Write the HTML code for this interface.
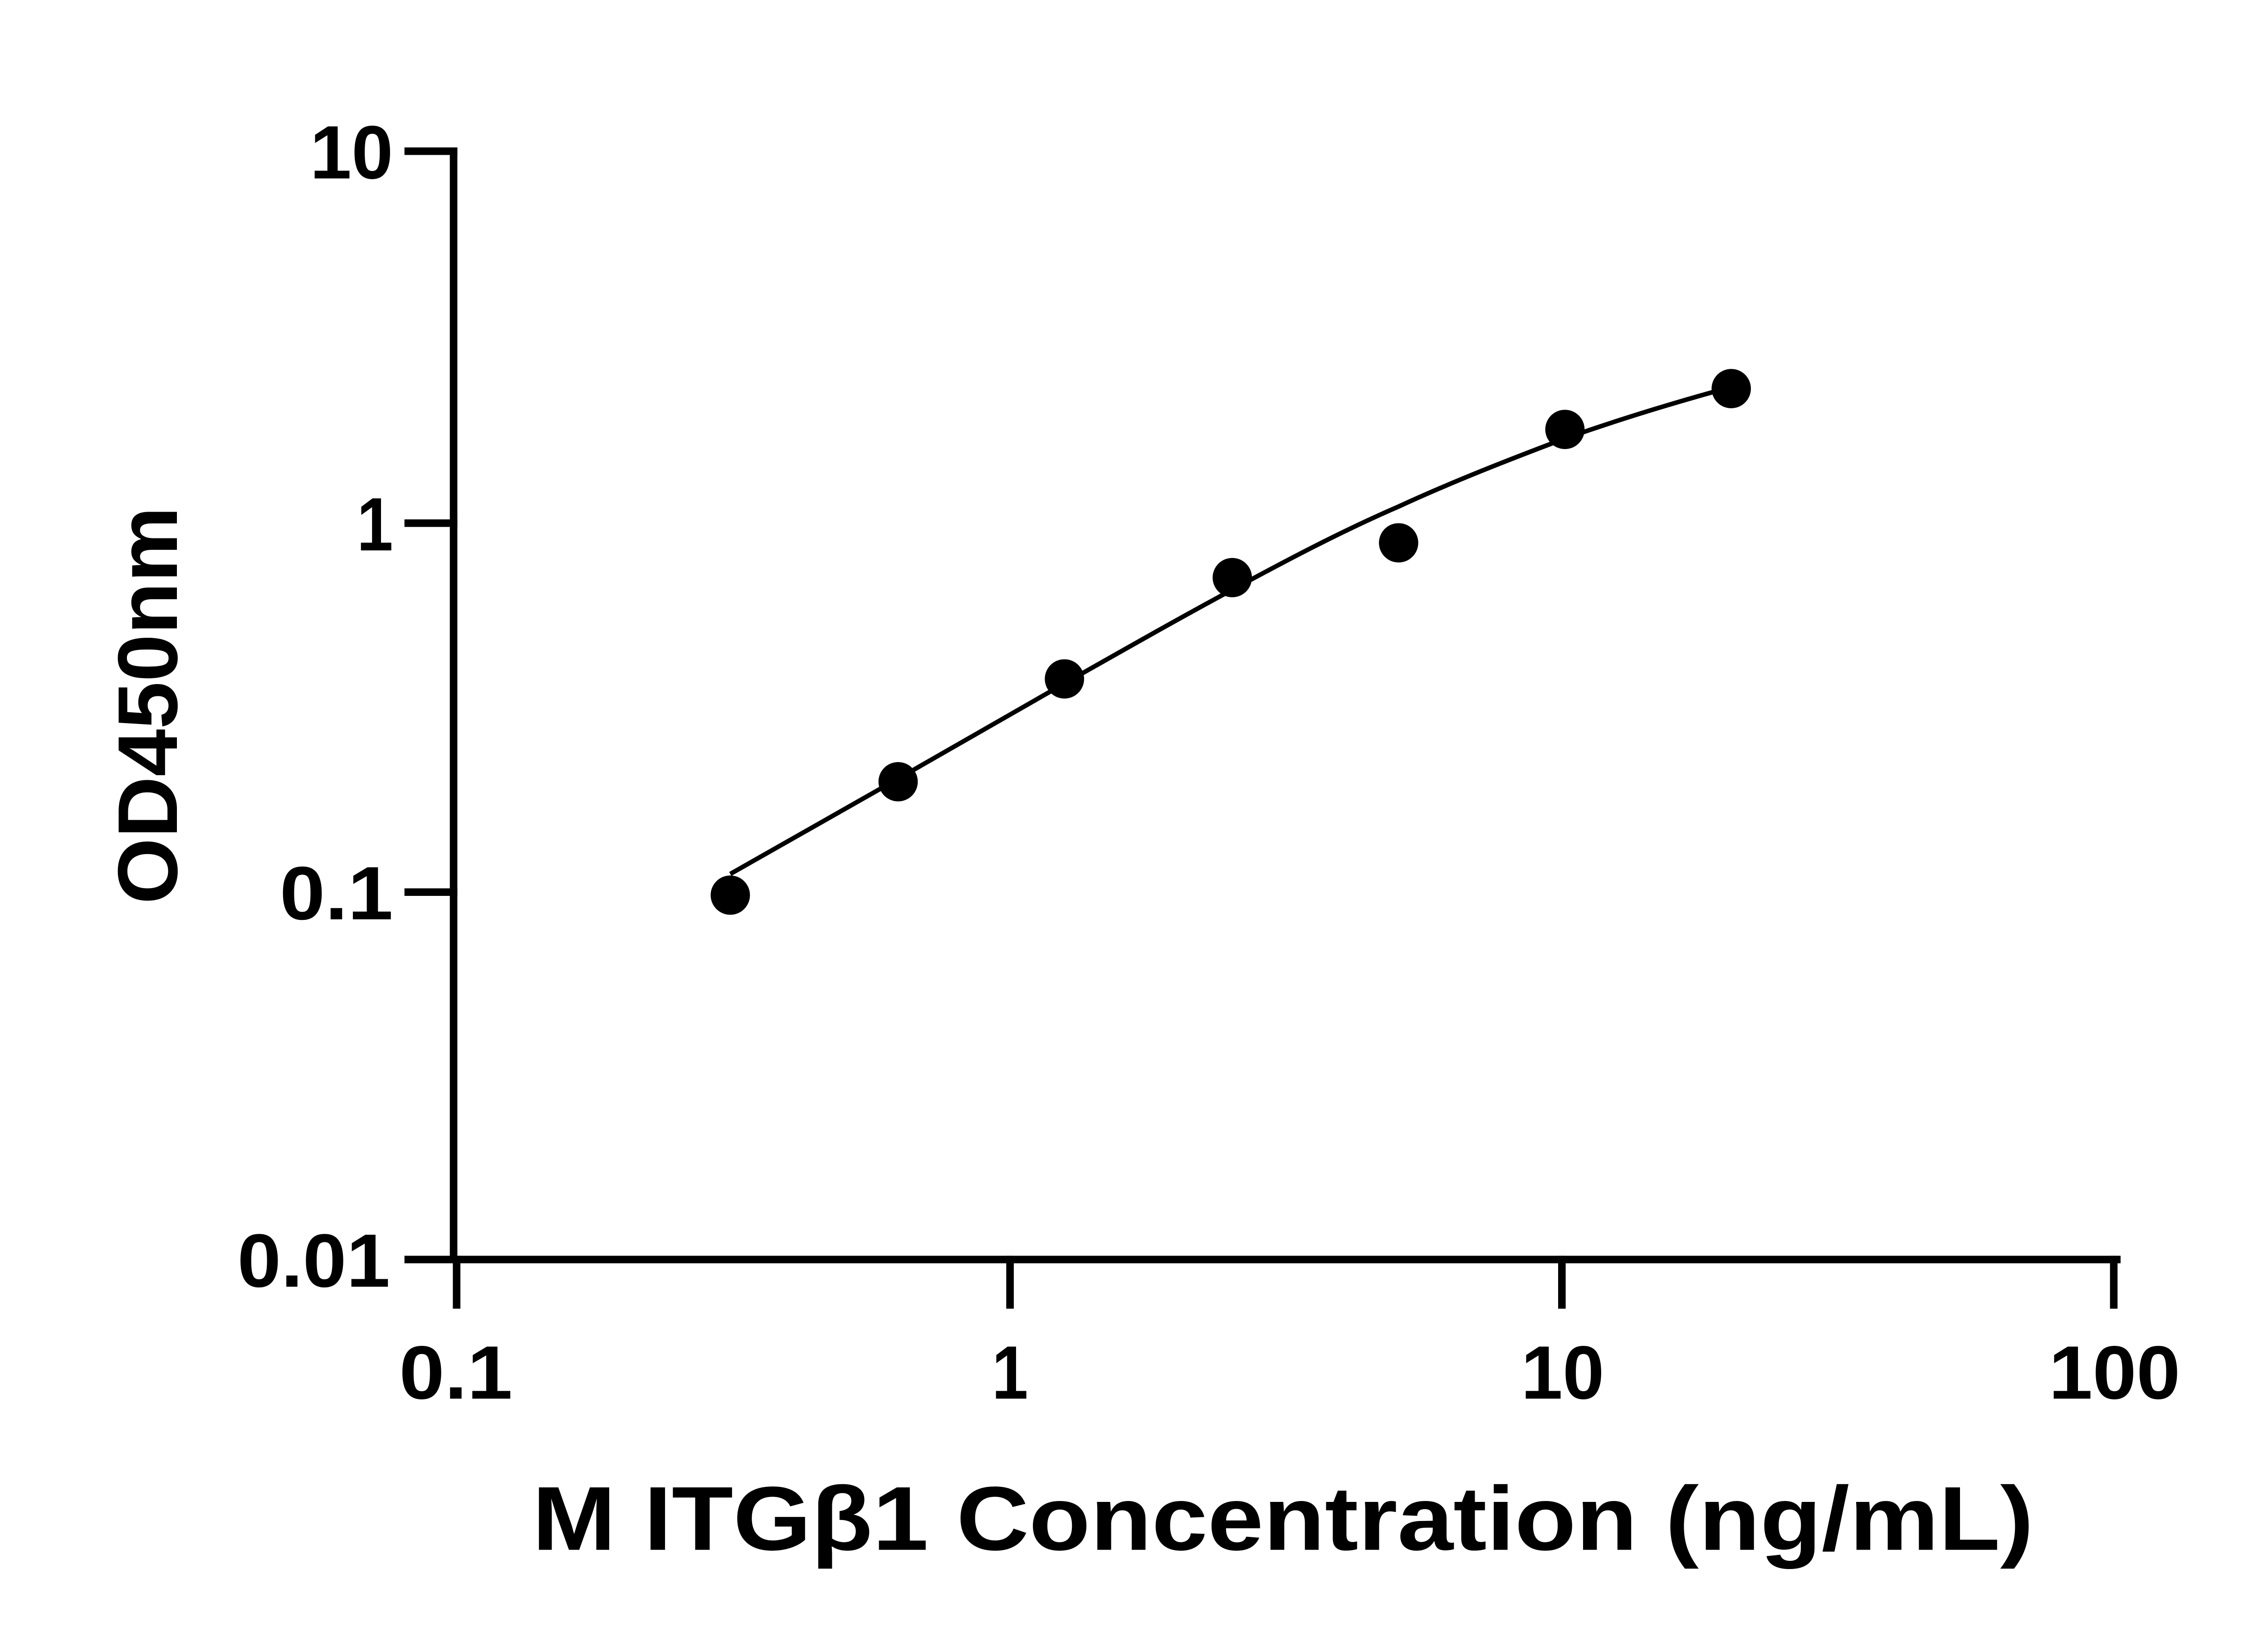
<!DOCTYPE html>
<html><head><meta charset="utf-8"><style>html,body{margin:0;padding:0;background:#fff}svg{display:block}</style></head>
<body>
<svg width="5142" height="3600" viewBox="0 0 1542.6 1080" preserveAspectRatio="none" xmlns="http://www.w3.org/2000/svg">
<rect width="1542.6" height="1080" fill="#fff"/>
<g stroke="#000" stroke-width="5" fill="none" stroke-linecap="square">
<path d="M300,100 V833 H1400"/>
<path d="M270,100 H300 M270,346 H300 M270,590 H300 M270,833 H300"/>
<path d="M302,833 V863 M668,833 V863 M1033,833 V863 M1398,833 V863"/>
</g>
<path d="M483,578 C520,557 557,536 594,515 C631,494 667,473 704,452 C741,431 778,410 815,390 C852,370 888,351 925,335 C962,318 998,304 1035,290 C1072,277 1108,266 1145,256" stroke="#000" stroke-width="3" fill="none"/>
<g fill="#000">
<circle cx="483" cy="592" r="13"/><circle cx="594" cy="517" r="13"/><circle cx="704" cy="449" r="13"/>
<circle cx="815" cy="382" r="13"/><circle cx="925" cy="359" r="13"/><circle cx="1035" cy="284" r="13"/>
<circle cx="1145" cy="257" r="13"/>
</g>
<g font-family="Liberation Sans, sans-serif" font-weight="bold" font-size="50" fill="#000" lengthAdjust="spacingAndGlyphs">
<text x="205" y="118" textLength="55" lengthAdjust="spacingAndGlyphs">10</text>
<text x="236" y="364" textLength="24" lengthAdjust="spacingAndGlyphs">1</text>
<text x="185" y="608" textLength="75" lengthAdjust="spacingAndGlyphs">0.1</text>
<text x="157" y="851" textLength="101" lengthAdjust="spacingAndGlyphs">0.01</text>
<text x="264" y="925" textLength="75" lengthAdjust="spacingAndGlyphs">0.1</text>
<text x="656" y="925" textLength="24" lengthAdjust="spacingAndGlyphs">1</text>
<text x="1006" y="925" textLength="55" lengthAdjust="spacingAndGlyphs">10</text>
<text x="1355" y="925" textLength="87" lengthAdjust="spacingAndGlyphs">100</text>
<text x="352" y="1025" font-size="60" textLength="993" lengthAdjust="spacingAndGlyphs">M ITGβ1 Concentration (ng/mL)</text>
<text transform="translate(117,598) rotate(-90)" font-size="56" textLength="263" lengthAdjust="spacingAndGlyphs">OD450nm</text>
</g>
</svg>
</body></html>
